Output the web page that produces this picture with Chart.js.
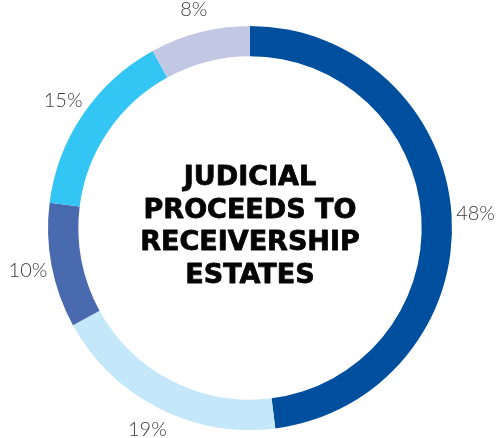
<!DOCTYPE html>
<html><head><meta charset="utf-8">
<script src="https://cdn.jsdelivr.net/npm/chart.js@4"></script>
<style>html,body{margin:0;padding:0;background:#fff;}canvas{display:block;}</style>
</head><body>
<canvas id="c" width="501" height="438"></canvas>
<script>
const categories = ["A", "B", "C", "D", "E"];
const values = [48, 19, 10, 15, 8];
const labels = ["48%", "19%", "10%", "15%", "8%"];
const colors = ["#004f9f", "#c4e8f9", "#4a6aaf", "#33c5f3", "#c2c8e4"];
const titleLines = ["JUDICIAL", "PROCEEDS TO", "RECEIVERSHIP", "ESTATES"];

const outsideLabels = {
  id: 'outsideLabels',
  afterDraw(chart) {
    const ctx = chart.ctx;
    const meta = chart.getDatasetMeta(0);
    ctx.save();
    ctx.fillStyle = '#3a3a3a';
    ctx.font = '300 20px Lato, "Open Sans", sans-serif';
    ctx.textAlign = 'center';
    ctx.textBaseline = 'middle';
    meta.data.forEach((arc, i) => {
      const p = arc.getProps(['x','y','startAngle','endAngle','outerRadius'], true);
      const a = (p.startAngle + p.endAngle) / 2;
      const r = p.outerRadius + 24;
      ctx.fillText(labels[i], p.x + Math.cos(a) * r, p.y + Math.sin(a) * r);
    });
    const arc0 = meta.data[0];
    ctx.fillStyle = '#050505';
    ctx.strokeStyle = '#050505';
    ctx.lineWidth = 0.8;
    ctx.lineJoin = 'round';
    ctx.font = 'bold 27px "DejaVu Sans", sans-serif';
    const lh = 32.5;
    const cy = arc0.y - 1;
    titleLines.forEach((t, i) => {
      const y = cy + (i - (titleLines.length - 1) / 2) * lh;
      ctx.fillText(t, arc0.x, y);
      ctx.strokeText(t, arc0.x, y);
    });
    ctx.restore();
  }
};

new Chart(document.getElementById('c'), {
  type: 'doughnut',
  data: { labels: categories, datasets: [{ data: values, backgroundColor: colors, borderWidth: 0 }] },
  options: {
    responsive: false,
    animation: false,
    cutout: '85%',
    layout: { padding: { left: 48, right: 49, top: 26, bottom: 8 } },
    plugins: { legend: { display: false }, tooltip: { enabled: false } }
  },
  plugins: [outsideLabels]
});
</script>
</body></html>
